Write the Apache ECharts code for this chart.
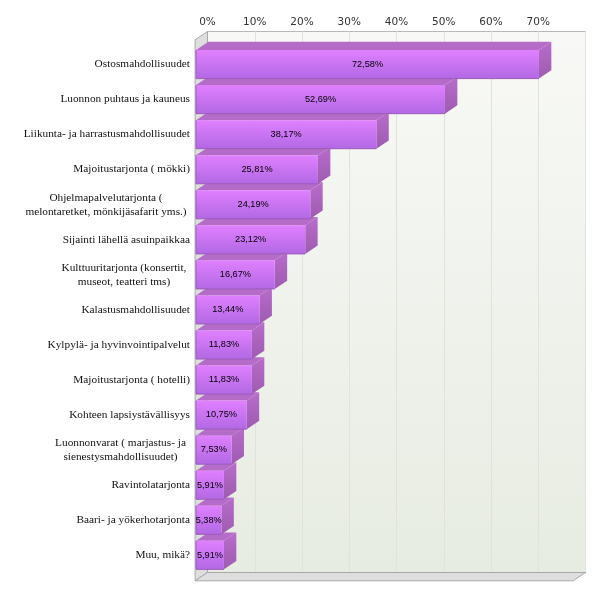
<!DOCTYPE html>
<html><head><meta charset="utf-8">
<style>html,body{margin:0;padding:0;background:#fff}#c{width:600px;height:595px}</style>
<script src="https://cdn.jsdelivr.net/npm/echarts@6/dist/echarts.min.js"></script>
</head><body><div id="c"></div>
<script>
const categories = [
  "Ostosmahdollisuudet",
  "Luonnon puhtaus ja kauneus",
  "Liikunta- ja harrastusmahdollisuudet",
  "Majoitustarjonta ( mökki)",
  "Ohjelmapalvelutarjonta (\nmelontaretket, mönkijäsafarit yms.)",
  "Sijainti lähellä asuinpaikkaa",
  "Kulttuuritarjonta (konsertit,\nmuseot, teatteri tms)",
  "Kalastusmahdollisuudet",
  "Kylpylä- ja hyvinvointipalvelut",
  "Majoitustarjonta ( hotelli)",
  "Kohteen lapsiystävällisyys",
  "Luonnonvarat ( marjastus- ja\nsienestysmahdollisuudet)",
  "Ravintolatarjonta",
  "Baari- ja yökerhotarjonta",
  "Muu, mikä?"
];
const values = [72.58,52.69,38.17,25.81,24.19,23.12,16.67,13.44,11.83,11.83,10.75,7.53,5.91,5.38,5.91];
const xTicks = [0,10,20,30,40,50,60,70,80];

const DX = 12.4, DY = 8.3, BAR = 0.815;
const chart = echarts.init(document.getElementById('c'), null, {renderer:'canvas'});

const fmtCat = s => {
  const lines = s.split('\n');
  if (lines.length === 1) return '{s|' + s + '}';
  const w = lines[0].startsWith('Ohjelma') ? 'a' : lines[0].startsWith('Kulttuuri') ? 'b' : 'c';
  return lines.map(l => '{' + w + '|' + l + '}').join('\n');
};
const catStyle = {fontFamily:'Liberation Serif',fontSize:11.3,color:'#111',lineHeight:14};

function renderWalls(params, api) {
  const bl = api.coord([0,0]), tl = api.coord([0,1]), br = api.coord([80,0]);
  const wall = {fill:'#dedede',stroke:'#a8a8a8',lineWidth:1};
  return {type:'group',children:[
    {type:'polygon',shape:{points:[tl,[tl[0]-DX,tl[1]+DY],[bl[0]-DX,bl[1]+DY],bl]},style:wall},
    {type:'polygon',shape:{points:[bl,br,[br[0]-DX,br[1]+DY],[bl[0]-DX,bl[1]+DY]]},style:wall}
  ]};
}
function renderBar(params, api) {
  const i = params.dataIndex, v = api.value(1);
  const c = api.coord([v, i]), o = api.coord([0, i]);
  const h = api.size([0,1])[1] * BAR;
  const x0 = o[0], x1 = c[0], y0 = c[1]-h/2, y1 = c[1]+h/2;
  const z = 10 + (values.length - i) * 5;
  const grad = (a,b) => new echarts.graphic.LinearGradient(0,0,0,1,[{offset:0,color:a},{offset:1,color:b}]);
  const edge = {stroke:'#9a5cb8',lineWidth:1};
  return {type:'group',children:[
    {type:'polygon',z2:z,shape:{points:[[x0,y0],[x1,y0],[x1+DX,y0-DY],[x0+DX,y0-DY]]},
      style:{fill:'#b56cc8'}},
    {type:'polygon',z2:z,shape:{points:[[x1,y0],[x1+DX,y0-DY],[x1+DX,y1-DY],[x1,y1]]},
      style:{fill:grad('#b86ccb','#9e5bb0')}},
    {type:'rect',z2:z+1,shape:{x:x0,y:y0,width:x1-x0,height:y1-y0},
      style:{fill:grad('#e080ff','#b268e4')}},
    {type:'line',z2:z+1,shape:{x1:x0,y1:y1,x2:x1,y2:y1},style:edge},
    {type:'line',z2:z+1,shape:{x1:x0,y1:y0,x2:x0,y2:y1},style:edge},
    {type:'text',z2:z+2,style:{x:(x0+x1)/2,y:c[1],text:api.value(2),align:'center',verticalAlign:'middle',
      fontFamily:'Liberation Sans',fontSize:9.2,fontWeight:'normal',fill:'#000'}}
  ]};
}

chart.setOption({
  animation:false,
  backgroundColor:'#fff',
  grid:[
    {left:207.5,top:31.5,width:378,height:541,show:true,borderColor:'#b8b8b8',borderWidth:1,
     backgroundColor:new echarts.graphic.LinearGradient(0,0,0,1,[{offset:0,color:'#f8f9f6'},{offset:1,color:'#e7ece2'}])},
    {left:196,top:46.8,width:378,height:525.8}
  ],
  xAxis:[
    {gridIndex:0,type:'value',position:'top',min:0,max:80,interval:10,
     axisLine:{show:true,lineStyle:{color:'#888',width:1}},axisTick:{show:false},
     axisLabel:{margin:4,fontFamily:'DejaVu Sans',fontSize:10.5,color:'#333',
       formatter:v => (v === xTicks[xTicks.length-1] ? '' : v + '%')},
     splitLine:{show:true,lineStyle:{color:'#e0e3dc',width:1}}},
    {gridIndex:1,type:'value',min:0,max:80,show:false}
  ],
  yAxis:[
    {gridIndex:0,type:'value',min:0,max:1,show:false},
    {gridIndex:1,type:'category',inverse:true,data:categories,
     axisLine:{show:false},axisTick:{show:false},splitLine:{show:false},
     axisLabel:{interval:0,margin:6,formatter:fmtCat,
       rich:{s:catStyle,
             a:{...catStyle,width:168,align:'center'},
             b:{...catStyle,width:132,align:'center'},
             c:{...catStyle,width:139,align:'center'}}}}
  ],
  series:[
    {type:'custom',xAxisIndex:0,yAxisIndex:0,z:1,silent:true,clip:false,renderItem:renderWalls,data:[[0,0]]},
    {type:'custom',xAxisIndex:1,yAxisIndex:1,z:2,silent:true,clip:false,renderItem:renderBar,
     encode:{x:1,y:0},
     data:values.map((v,i)=>[i,v,v.toFixed(2).replace('.',',')+'%'])}
  ]
});
</script></body></html>
